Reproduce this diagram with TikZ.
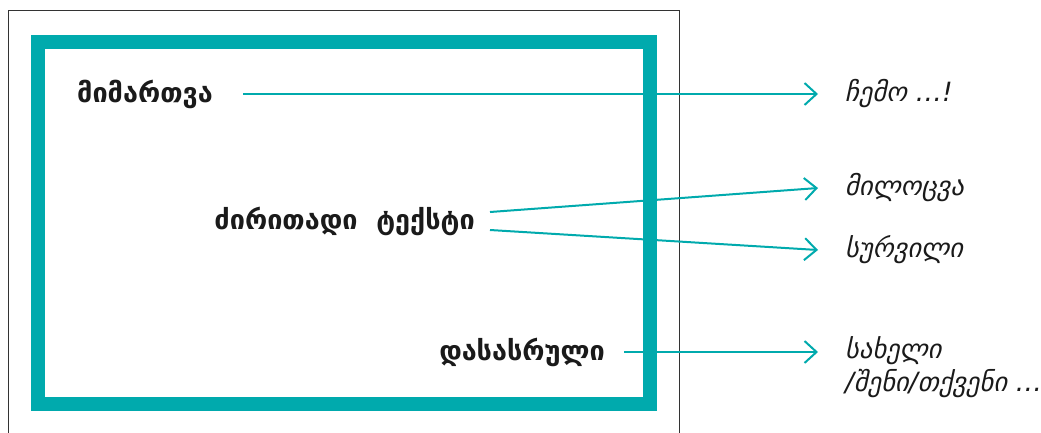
\documentclass[tikz,border=0pt]{standalone}
\usepackage{fontspec}
\setmainfont{DejaVu Sans}
\usetikzlibrary{arrows.meta}
\definecolor{teal1}{HTML}{00AAAD}
\definecolor{ink}{HTML}{1A1A1A}
\tikzset{
  lefttext/.style={font=\bfseries\fontsize{27}{32}\selectfont, text=ink, inner sep=0pt},
  righttext/.style={font=\itshape\fontsize{26.5}{33}\selectfont, text=ink, inner sep=0pt, anchor=west},
  conn/.style={draw=teal1, line width=2pt, -{Straight Barb[length=12pt,width=22pt,line width=2pt]}},
}
\begin{document}
\begin{tikzpicture}[x=1pt,y=-1pt]
\useasboundingbox (0,0) rectangle (1041,432);
% thin outer frame
\draw[line width=1pt, color=black!80] (8,440) -- (8,10) -- (679,10) -- (679,440);
% teal frame
\draw[teal1, line width=14pt] (37.5,41.5) rectangle (649.5,403.5);
% left texts
\node[lefttext, anchor=west] (a) at (77,94) {მიმართვა};
\node[lefttext, anchor=east] (b) at (475,221) {ძირითადი~~ტექსტი};
\node[lefttext, anchor=east] (c) at (605,352) {დასასრული};
% right texts
\node[righttext] (r1) at (845,94) {ჩემო …!};
\node[righttext] (r2) at (845,188) {მილოცვა};
\node[righttext] (r3) at (845,250) {სურვილი};
\node[righttext, anchor=north west, align=left] (r4) at (845,336) {სახელი\\/შენი/თქვენი …};
% connectors
\draw[conn] ([xshift=30]a.east) -- ([xshift=-27]a.east -| r1.west);
\draw[conn] ([shift={(15,-9)}]b.east) -- ([xshift=-27]r2.west);
\draw[conn] ([shift={(15,9)}]b.east) -- ([xshift=-27]r3.west);
\draw[conn] ([xshift=19]c.east) -- ([xshift=-27]c.east -| r4.west);
\end{tikzpicture}
\end{document}
